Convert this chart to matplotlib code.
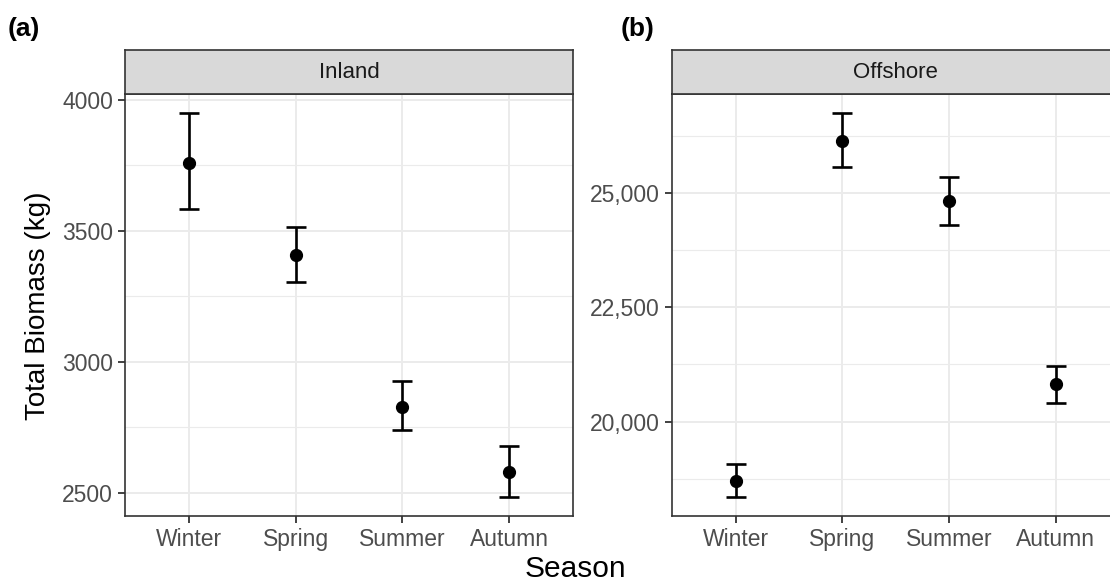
import matplotlib
matplotlib.use("Agg")
import matplotlib.pyplot as plt
from matplotlib.ticker import FuncFormatter, MultipleLocator
import numpy as np

plt.rcParams['font.family'] = ['Liberation Sans', 'DejaVu Sans']

seasons = ["Winter", "Spring", "Summer", "Autumn"]

inland_mean = [3758, 3407, 2829, 2578]
inland_low = [3584, 3304, 2740, 2485]
inland_high = [3949, 3515, 2927, 2679]

offshore_mean = [18702, 26151, 24825, 20819]
offshore_low = [18352, 25576, 24306, 20416]
offshore_high = [19074, 26751, 25363, 21226]

inland_ticks = [2500, 3000, 3500, 4000]
offshore_ticks = [20000, 22500, 25000]

W, H = 1110, 583
fig = plt.figure(figsize=(W / 100, H / 100), dpi=100)

tick_col = "#4D4D4D"
border_col = "#333333"
grid_col = "#EBEBEB"


def panel(left_px, mean, low, high, ticks, minor_step, label, fmt):
    bottom_px, top_px, strip_top_px = 516, 94, 50
    width_px = 448
    ax = fig.add_axes([left_px / W, (H - bottom_px) / H, width_px / W, (bottom_px - top_px) / H])
    x = np.arange(len(seasons))
    mean = np.array(mean); low = np.array(low); high = np.array(high)
    ax.errorbar(x, mean, yerr=[mean - low, high - mean], fmt='o', color='black',
                ms=8.5, elinewidth=1.9, capsize=7.5, capthick=1.9, zorder=3)
    ax.set_xlim(-0.6, len(seasons) - 1 + 0.6)
    rng = max(high) - min(low)
    ax.set_ylim(min(low) - 0.05 * rng, max(high) + 0.05 * rng)
    ax.set_xticks(x)
    ax.set_xticklabels(seasons)
    ax.set_yticks(ticks)
    ax.yaxis.set_minor_locator(MultipleLocator(minor_step))
    ax.yaxis.set_major_formatter(FuncFormatter(fmt))
    ax.grid(which='major', color=grid_col, lw=1.4, zorder=0)
    ax.grid(which='minor', axis='y', color=grid_col, lw=0.8, zorder=0)
    ax.set_axisbelow(True)
    ax.tick_params(which='major', length=5, width=1.3, color=border_col,
                   labelcolor=tick_col, labelsize=16.5, pad=3.5)
    ax.tick_params(which='minor', length=0)
    for s in ax.spines.values():
        s.set_color(border_col)
        s.set_linewidth(1.2)
    sax = fig.add_axes([left_px / W, (H - top_px) / H, width_px / W, (top_px - strip_top_px) / H])
    sax.set_facecolor("#D9D9D9")
    sax.set_xticks([]); sax.set_yticks([])
    for s in sax.spines.values():
        s.set_color(border_col)
        s.set_linewidth(1.2)
    sax.text(0.5, 0.5, label, ha='center', va='center', fontsize=16, color='#1A1A1A',
             transform=sax.transAxes)
    return ax


ax1 = panel(125, inland_mean, inland_low, inland_high, inland_ticks, 250, "Inland",
            lambda v, p: f"{v:.0f}")
ax2 = panel(671.5, offshore_mean, offshore_low, offshore_high, offshore_ticks, 1250, "Offshore",
            lambda v, p: f"{v:,.0f}")

fig.text(8 / W, 1 - 29 / H, "(a)", fontsize=19, fontweight='bold', ha='left', va='center')
fig.text(621 / W, 1 - 29 / H, "(b)", fontsize=19, fontweight='bold', ha='left', va='center')
fig.text(38 / W, 1 - 306 / H, "Total Biomass (kg)", fontsize=20, rotation=90,
         ha='center', va='center', color='black')
fig.text(575 / W, 1 - 569 / H, "Season", fontsize=21.5, ha='center', va='center', color='black')

fig.savefig("out.png", dpi=100)
